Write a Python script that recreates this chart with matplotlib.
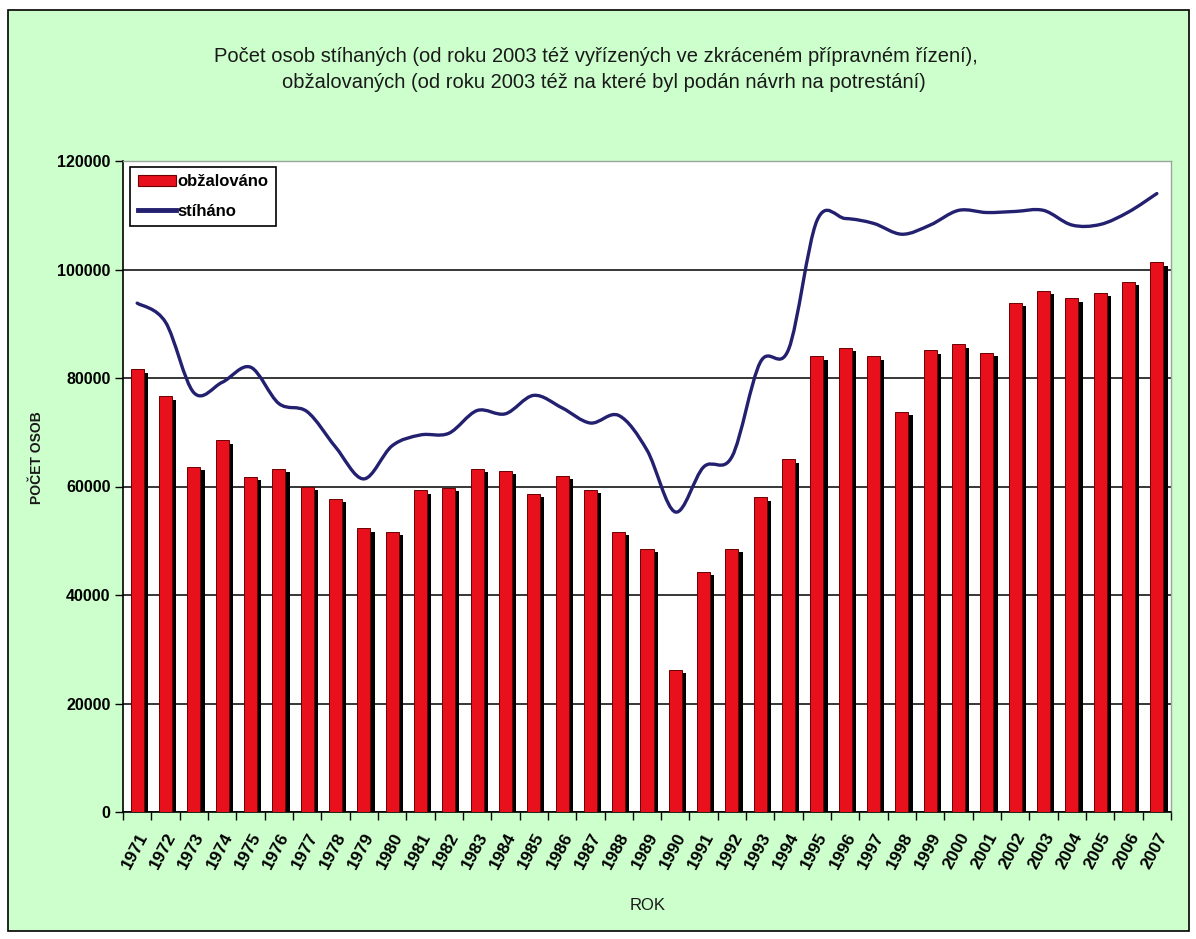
import numpy as np
import matplotlib.pyplot as plt
from matplotlib.path import Path
from matplotlib.patches import PathPatch, Rectangle
from matplotlib.lines import Line2D

# roky a hodnoty
roky = [str(r) for r in range(1971, 2008)]
obzalovano = [81600, 76600, 63600, 68500, 61800, 63300, 59900, 57700, 52300, 51600,
              59300, 59800, 63300, 62900, 58700, 61900, 59400, 51700, 48500, 26200,
              44300, 48500, 58000, 65000, 84000, 85500, 84000, 73800, 85100, 86200,
              84700, 93900, 96000, 94700, 95700, 97700, 101300]
stihano = [93800, 90300, 77300, 79200, 82000, 75300, 73800, 67300, 61400, 67500,
           69500, 69800, 74000, 73400, 76800, 74500, 71700, 73100, 66700, 55300,
           63600, 65500, 82900, 85300, 109000, 109400, 108500, 106500, 108200, 110900,
           110500, 110700, 110900, 108200, 108300, 110600, 114000]

nadpis1 = 'Počet osob stíhaných (od roku 2003 též vyřízených ve zkráceném přípravném řízení),'
nadpis2 = 'obžalovaných (od roku 2003 též na které byl podán návrh na potrestání)'

W, H = 1196, 939
fig = plt.figure(figsize=(W / 100, H / 100), dpi=100, facecolor='white')

# zelene pozadi s ramem
fig.patches.append(Rectangle((8 / W, (H - 931) / H), (1189 - 8) / W, (931 - 10) / H,
                             transform=fig.transFigure, facecolor='#CCFFCC',
                             edgecolor='black', linewidth=1.2, zorder=-5))

ax = fig.add_axes([123 / W, (H - 812) / H, (1171 - 123) / W, (812 - 161) / H])
ax.set_facecolor('white')

x = np.arange(len(roky))
sirka = 0.46
# stin sloupcu
ax.bar(x + 0.15, np.array(obzalovano) - 600, width=sirka, color='black', zorder=2)
ax.bar(x, obzalovano, width=sirka, color='#E8101C', edgecolor='#6a0000', linewidth=0.7, zorder=3)

# vyhlazena cara jako v Excelu (Bezier)
y = np.array(stihano, dtype=float)
body = [(x[0], y[0])]
kody = [Path.MOVETO]
n = len(y)
for i in range(n - 1):
    p0 = (x[max(i - 1, 0)], y[max(i - 1, 0)])
    p1 = (x[i], y[i])
    p2 = (x[i + 1], y[i + 1])
    p3 = (x[min(i + 2, n - 1)], y[min(i + 2, n - 1)])
    c1 = (p1[0] + (p2[0] - p0[0]) / 6, p1[1] + (p2[1] - p0[1]) / 6)
    c2 = (p2[0] - (p3[0] - p1[0]) / 6, p2[1] - (p3[1] - p1[1]) / 6)
    body += [c1, c2, p2]
    kody += [Path.CURVE4] * 3
ax.add_patch(PathPatch(Path(body, kody), facecolor='none', edgecolor='#232070',
                       linewidth=2.4, zorder=4, capstyle='round'))

ax.set_xlim(-0.5, len(roky) - 0.5)
ax.set_ylim(0, 120000)
ax.set_yticks(range(0, 120001, 20000))
ax.set_yticklabels([str(v) for v in range(0, 120001, 20000)],
                   fontsize=11.5, fontweight='bold', family=['Liberation Sans'])
ax.yaxis.grid(True, color='black', linewidth=1.1)
ax.set_axisbelow(True)

ax.set_xticks(x)
ax.set_xticklabels(roky, rotation=62, ha='right', va='top', rotation_mode='anchor',
                   fontsize=12.5, fontweight='bold', family=['Liberation Sans'])
ax.set_xticks(np.arange(-0.5, len(roky)), minor=True)
ax.tick_params(axis='x', which='major', length=0, pad=13)
ax.tick_params(axis='x', which='minor', length=6, width=1, direction='out')
ax.tick_params(axis='y', length=6, width=1, direction='out', pad=3)

for s in ['left', 'bottom']:
    ax.spines[s].set_color('black')
    ax.spines[s].set_linewidth(1.2)
for s in ['top', 'right']:
    ax.spines[s].set_color('#9aa89a')
    ax.spines[s].set_linewidth(1)

# legenda
h1 = Rectangle((0, 0), 1, 1, facecolor='#E8101C', edgecolor='#6a0000', linewidth=0.8)
h2 = Line2D([], [], color='#232070', linewidth=3.5)
leg = ax.legend([h1, h2], ['obžalováno', 'stíháno'], loc='upper left',
                bbox_to_anchor=(0.0067, 0.9908), borderaxespad=0, fancybox=False,
                framealpha=1, edgecolor='black', handlelength=2.3, handleheight=0.6,
                handletextpad=0.1, borderpad=0.45, labelspacing=0.85,
                prop={'family': ['Liberation Sans'], 'weight': 'bold', 'size': 12})
leg.get_frame().set_linewidth(1.2)

fig.text(596 / W, 1 - 56 / H, nadpis1, ha='center', va='center', fontsize=14.5,
         family=['Liberation Sans'], color='#1a1a1a')
fig.text(604 / W, 1 - 82 / H, nadpis2, ha='center', va='center', fontsize=14.5,
         family=['Liberation Sans'], color='#1a1a1a')
fig.text(37 / W, 1 - 458 / H, 'POČET OSOB', rotation=90, ha='center', va='center',
         fontsize=10, fontweight='bold', family=['Liberation Sans'], color='#1a1a1a')
fig.text(648 / W, 1 - 905 / H, 'ROK', ha='center', va='center', fontsize=12,
         family=['Liberation Sans'], color='#1a1a1a')

fig.savefig('out.png', dpi=100, facecolor='white')
